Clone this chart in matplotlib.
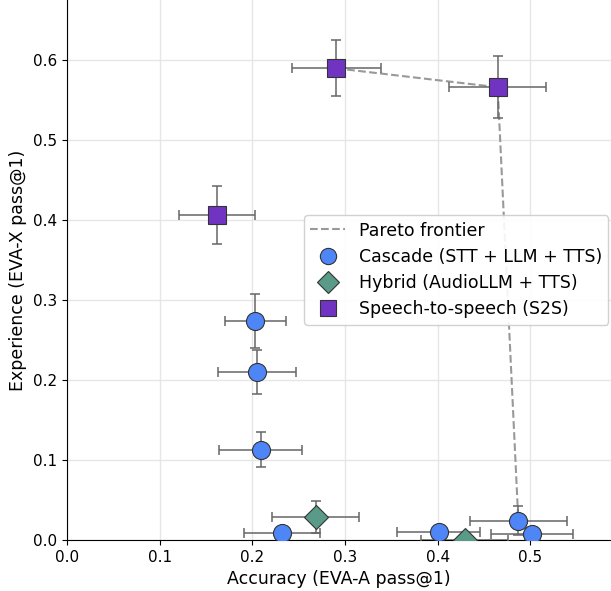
import matplotlib
matplotlib.use("Agg")
import matplotlib.pyplot as plt

# Cascade (STT + LLM + TTS)
cas_x = [0.203, 0.205, 0.209, 0.2325, 0.401, 0.487, 0.502]
cas_y = [0.274, 0.210, 0.113, 0.009, 0.010, 0.024, 0.0075]
cas_xerr = [0.033, 0.042, 0.045, 0.041, 0.045, 0.052, 0.044]
cas_yerr = [0.034, 0.027, 0.022, 0.006, 0.006, 0.018, 0.006]

# Hybrid (AudioLLM + TTS)
hyb_x = [0.2685, 0.429]
hyb_y = [0.029, 0.0]
hyb_xerr = [0.047, 0.047]
hyb_yerr = [0.020, 0.006]

# Speech-to-speech (S2S)
s2s_x = [0.2905, 0.4647, 0.162]
s2s_y = [0.5896, 0.566, 0.406]
s2s_xerr = [0.048, 0.052, 0.041]
s2s_yerr = [0.035, 0.039, 0.036]

# Pareto frontier
par_x = [0.2905, 0.4647, 0.487, 0.502]
par_y = [0.5896, 0.566, 0.024, 0.0075]

fig = plt.figure(figsize=(6.11, 5.91), dpi=100)
ax = fig.add_axes([67/611, 51/591, 1 - 67/611, 540/591])

ax.grid(True, color="#e6e6e6", linewidth=1.0, zorder=0)
ax.set_axisbelow(True)

ax.plot(par_x, par_y, linestyle="--", color="#999999", linewidth=1.5,
        label="Pareto frontier", zorder=2)

err_kw = dict(fmt="none", ecolor="#666666", elinewidth=1.1, capsize=3.6, capthick=1.1, zorder=3)
ax.errorbar(cas_x, cas_y, xerr=cas_xerr, yerr=cas_yerr, **err_kw)
ax.errorbar(hyb_x, hyb_y, xerr=hyb_xerr, yerr=hyb_yerr, **err_kw)
ax.errorbar(s2s_x, s2s_y, xerr=s2s_xerr, yerr=s2s_yerr, **err_kw)

mk = dict(linestyle="none", markersize=13, markeredgecolor="#333333", markeredgewidth=0.8, zorder=4)
ax.plot(cas_x, cas_y, marker="o", color="#4F86F7", label="Cascade (STT + LLM + TTS)", **mk)
ax.plot(hyb_x, hyb_y, marker="D", color="#5A9A88", label="Hybrid (AudioLLM + TTS)",
        **{**mk, "markersize": 12.5})
ax.plot(s2s_x, s2s_y, marker="s", color="#7133C2", label="Speech-to-speech (S2S)", **mk)

ax.set_xlim(0, 0.587)
ax.set_ylim(0, 0.675)
ax.set_xticks([0.0, 0.1, 0.2, 0.3, 0.4, 0.5])
ax.set_yticks([0.0, 0.1, 0.2, 0.3, 0.4, 0.5, 0.6])
ax.tick_params(labelsize=11)
ax.set_xlabel("Accuracy (EVA-A pass@1)", fontsize=12.5)
ax.set_ylabel("Experience (EVA-X pass@1)", fontsize=12.5)
for s in ["top", "right"]:
    ax.spines[s].set_visible(False)

ax.legend(loc="center right", bbox_to_anchor=(1.0 + 6/544, 0.5), fontsize=12.5,
          labelspacing=0.48, borderpad=0.35, markerscale=0.9, framealpha=0.9,
          edgecolor="#cccccc")

fig.savefig("out.png", dpi=100)
